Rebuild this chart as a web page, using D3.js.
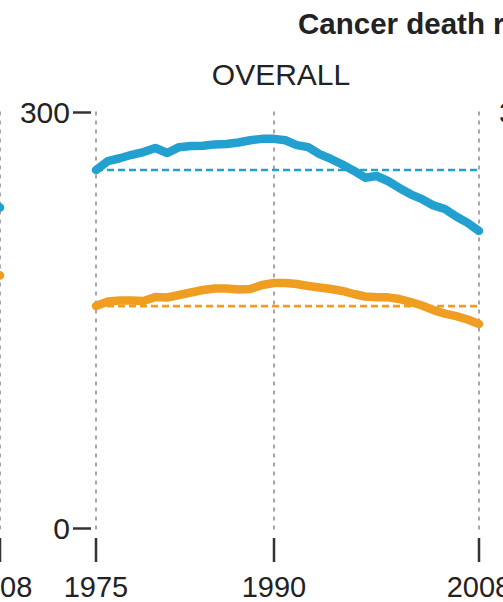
<!DOCTYPE html>
<html>
<head>
<meta charset="utf-8">
<script src="https://cdn.jsdelivr.net/npm/d3@7"></script>
<style>
  body { margin: 0; background: #fff; }
  svg { display: block; }
  text { font-family: "Liberation Sans", Arial, Helvetica, sans-serif; fill: #222; }
</style>
</head>
<body>
<svg id="chart" width="503" height="602"></svg>
<script>
// Death rates per 100,000, 1975–2008
const years = d3.range(1975, 2009);
const overallBlue = [
  258.5, 265, 267, 269.5, 271.5, 274.4, 270.8, 275, 275.8, 276, 277, 277.3, 278.4, 280, 281, 281,
  280, 276.5, 275, 270, 266.5, 262.5, 258, 253, 254.2, 250.6, 245.6, 241, 237.5, 233, 230.4, 225, 220.4, 214.6
];
const overallOrange = [
  160.4, 163.7, 164.4, 164.4, 164, 166.9, 166.6, 168.4, 170.2, 172, 173.1, 173.1, 172.4, 172.7, 175.6, 177,
  177, 176.3, 174.9, 173.8, 172.7, 171.3, 169.1, 167.3, 166.7, 166.7, 165.5, 163.3, 160.8, 157.5, 155, 153.2, 150.7, 147.5
];

// Tail of the neighbouring panel on the left
const prevYears = [2007, 2008];
const prevBlue = [235, 231.5];
const prevOrange = [185, 182.5];
const prevBaselines = [195.8, 155.4];

const yearTicks = [1975, 1990, 2008];
const valueTicks = [0, 300];
const title = "Cancer death rates";
const panelTitle = "OVERALL";

const BLUE = "#22a0cf";
const ORANGE = "#ef9e22";

const W = 503, H = 602;
const svg = d3.select("#chart");

const y = d3.scaleLinear().domain([0, 300]).range([528.5, 112.5]);
const panelStep = 479;

function xScale(offset) {
  return d3.scaleLinear()
    .domain([1975, 1990, 2008])
    .range([96 + offset, 274 + offset, 479 + offset]);
}

const line = (x) => d3.line().x(d => x(d[0])).y(d => y(d[1]));

function drawPanel(offset, opts) {
  const x = xScale(offset);
  const g = svg.append("g");

  // vertical dashed grid
  g.selectAll(".grid").data(yearTicks).join("line")
    .attr("x1", d => x(d)).attr("x2", d => x(d))
    .attr("y1", y(300) - 1).attr("y2", y(0) + 2)
    .attr("stroke", "#a6a6a6").attr("stroke-width", 2)
    .attr("stroke-dasharray", "4,5");

  // x ticks and labels
  g.selectAll(".xt").data(yearTicks).join("line")
    .attr("x1", d => x(d)).attr("x2", d => x(d))
    .attr("y1", 538).attr("y2", 562)
    .attr("stroke", "#333").attr("stroke-width", 2.5);
  g.selectAll(".xl").data(yearTicks).join("text")
    .attr("x", d => x(d)).attr("y", 597)
    .attr("text-anchor", "middle")
    .attr("font-size", 29)
    .text(d => d);

  // y ticks and labels
  g.selectAll(".yt").data(valueTicks).join("line")
    .attr("x1", offset + 73).attr("x2", offset + 91)
    .attr("y1", d => y(d)).attr("y2", d => y(d))
    .attr("stroke", "#333").attr("stroke-width", 2.5);
  g.selectAll(".yl").data(valueTicks).join("text")
    .attr("x", offset + 70).attr("y", d => y(d))
    .attr("dy", "0.36em")
    .attr("text-anchor", "end")
    .attr("font-size", 30)
    .text(d => d);

  if (opts.title) {
    g.append("text")
      .attr("x", offset + 281).attr("y", 85)
      .attr("text-anchor", "middle")
      .attr("font-size", 30)
      .text(opts.title);
  }

  // dashed reference lines at the starting level
  (opts.baselines || []).forEach((v, i) => {
    g.append("line")
      .attr("x1", x(1975)).attr("x2", x(2008))
      .attr("y1", y(v)).attr("y2", y(v))
      .attr("stroke", opts.colors[i]).attr("stroke-width", 2.6)
      .attr("stroke-dasharray", "7,4");
  });

  (opts.series || []).forEach((s, i) => {
    g.append("path")
      .datum(opts.years.map((yr, k) => [yr, s[k]]))
      .attr("d", line(x))
      .attr("fill", "none")
      .attr("stroke", opts.colors[i])
      .attr("stroke-width", 8.5)
      .attr("stroke-linecap", "round")
      .attr("stroke-linejoin", "round");
  });
}

drawPanel(-panelStep, {
  years: prevYears,
  series: [prevBlue, prevOrange],
  baselines: prevBaselines,
  colors: [BLUE, ORANGE]
});

drawPanel(0, {
  title: panelTitle,
  years: years,
  series: [overallBlue, overallOrange],
  baselines: [overallBlue[0], overallOrange[0]],
  colors: [BLUE, ORANGE]
});

drawPanel(panelStep, {});

svg.append("text")
  .attr("x", 298).attr("y", 34)
  .attr("font-size", 29.5)
  .attr("font-weight", "bold")
  .text(title);

// neighbouring panels only peek in at the edges; drop labels lying wholly out of view
svg.selectAll("text").each(function () {
  const b = this.getBBox();
  if (b.x + b.width <= 0 || b.x >= W) d3.select(this).remove();
});
</script>
</body>
</html>
